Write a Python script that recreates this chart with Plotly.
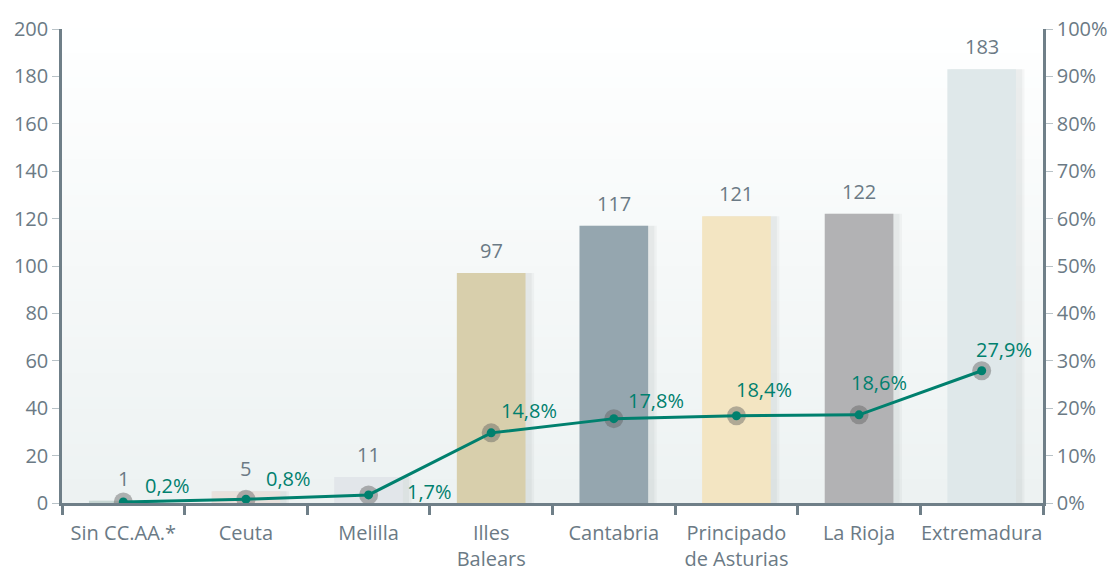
import plotly.graph_objects as go

categories = ['Sin CC.AA.*', 'Ceuta', 'Melilla', 'Illes<br>Balears', 'Cantabria',
              'Principado<br>de Asturias', 'La Rioja', 'Extremadura']
counts = [1, 5, 11, 97, 117, 121, 122, 183]
shares = [0.2, 0.8, 1.7, 14.8, 17.8, 18.4, 18.6, 27.9]
share_labels = ['0,2%', '0,8%', '1,7%', '14,8%', '17,8%', '18,4%', '18,6%', '27,9%']
bar_colors = ['#c6d5d2', '#e9e1dc', '#e2e6ea', '#d8cfac', '#95a6af',
              '#f3e5c2', '#b2b2b4', '#dfe8ea']

# label nudges (px) for the percentage labels, to mimic the original layout
pct_shift = [(20, 17), (18, 21), (36, 3), (8, 22), (12, 18), (-2, 26), (-10, 32), (-8, 21)]

FONT = 'Open Sans'
GREY = '#6b7a85'
TEAL = '#00806e'
FS = 20

fig = go.Figure()

# soft shadow behind the bars (two faint layers)
for off, alpha in [(-0.25, 0.05), (-0.27, 0.06)]:
    fig.add_trace(go.Bar(x=categories, y=counts, width=0.6, offset=off,
                         marker=dict(color=f'rgba(90,100,105,{alpha})', line_width=0),
                         hoverinfo='skip', showlegend=False))
fig.add_trace(go.Bar(x=categories, y=counts, width=0.56, offset=-0.28,
                     marker=dict(color=bar_colors, line_width=0),
                     showlegend=False))

# halo around points
fig.add_trace(go.Scatter(x=categories, y=shares, yaxis='y2', mode='markers',
                         marker=dict(size=19, color='rgba(95,95,95,0.45)'),
                         hoverinfo='skip', showlegend=False))
fig.add_trace(go.Scatter(x=categories, y=shares, yaxis='y2', mode='lines+markers',
                         line=dict(color=TEAL, width=3),
                         marker=dict(size=9, color=TEAL),
                         showlegend=False))

annotations = []
for c, v in zip(categories, counts):
    annotations.append(dict(x=c, y=v, yref='y', text=str(v), showarrow=False,
                            yanchor='bottom', yshift=7,
                            font=dict(family=FONT, size=FS, color=GREY)))
for c, v, t, (dx, dy) in zip(categories, shares, share_labels, pct_shift):
    annotations.append(dict(x=c, y=v, yref='y2', text=t, showarrow=False,
                            xanchor='left', yanchor='middle', xshift=dx, yshift=dy,
                            font=dict(family=FONT, size=FS, color=TEAL)))

# vertical gradient background of the plot area
n = 40
shapes = []
for i in range(n):
    f = i / (n - 1)
    r = round(0xed + (0xfe - 0xed) * f)
    g = round(0xf2 + (0xff - 0xf2) * f)
    b = round(0xf2 + (0xff - 0xf2) * f)
    shapes.append(dict(type='rect', xref='x domain', yref='y domain',
                       x0=0, x1=1, y0=i / n, y1=(i + 1) / n + 0.002,
                       fillcolor=f'rgb({r},{g},{b})', line_width=0, layer='below'))

axis_font = dict(family=FONT, size=FS, color=GREY)
fig.update_layout(
    width=1118, height=570,
    margin=dict(l=54, r=83, t=21, b=75, autoexpand=False),
    paper_bgcolor='white', plot_bgcolor='white',
    barmode='overlay',
    font=dict(family=FONT, color=GREY),
    shapes=shapes,
    annotations=annotations,
    xaxis=dict(type='category', showgrid=False, showline=True, linecolor='#6f7f88',
               linewidth=2.5, ticks='outside', tickson='boundaries', ticklen=9,
               tickwidth=2.5, tickcolor='#6f7f88', tickfont=axis_font,
               ticklabelstandoff=10, tickangle=0, range=[-0.5, 7.5]),
    yaxis=dict(range=[0, 200], dtick=20, showgrid=False, zeroline=False,
               showline=True, linecolor='#6f7f88', linewidth=2.5,
               ticks='outside', ticklen=7, tickwidth=1, tickcolor='#b8c2c7',
               tickfont=axis_font),
    yaxis2=dict(range=[0, 100], dtick=10, overlaying='y', side='right',
                ticksuffix='%', showgrid=False, zeroline=False,
                showline=True, linecolor='#6f7f88', linewidth=2.5,
                ticks='outside', ticklen=7, tickwidth=1, tickcolor='#b8c2c7',
                tickfont=axis_font),
)

fig.write_html('out.html')
